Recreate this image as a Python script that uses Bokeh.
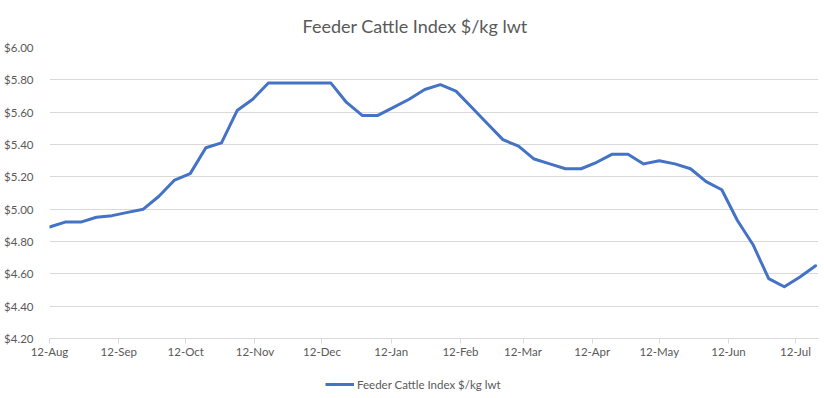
import datetime as dt
from bokeh.plotting import figure
from bokeh.layouts import column
from bokeh.models import (ColumnDataSource, FixedTicker, DatetimeTickFormatter,
                          NumeralTickFormatter, Legend, LegendItem, Range1d)
from bokeh.embed import file_html
from bokeh.resources import INLINE

# ---- data ----
start_date = dt.datetime(2022, 8, 12)
week_index = list(range(50))
index_values = [4.89, 4.92, 4.92, 4.95, 4.96, 4.98, 5.00, 5.08, 5.18, 5.22,
                5.38, 5.41, 5.61, 5.68, 5.78, 5.78, 5.78, 5.78, 5.78, 5.66,
                5.58, 5.58, 5.63, 5.68, 5.74, 5.77, 5.73, 5.63, 5.53, 5.43,
                5.39, 5.31, 5.28, 5.25, 5.25, 5.29, 5.34, 5.34, 5.28, 5.30,
                5.28, 5.25, 5.17, 5.12, 4.93, 4.78, 4.57, 4.52, 4.58, 4.65]
tick_months = ["2022-08-12", "2022-09-12", "2022-10-12", "2022-11-12",
               "2022-12-12", "2023-01-12", "2023-02-12", "2023-03-12",
               "2023-04-12", "2023-05-12", "2023-06-12", "2023-07-12"]
y_ticks = [4.2, 4.4, 4.6, 4.8, 5.0, 5.2, 5.4, 5.6, 5.8, 6.0]
series_name = "Feeder Cattle Index $/kg lwt"

dates = [start_date + dt.timedelta(days=7 * i) for i in week_index]
src = ColumnDataSource(dict(date=dates, value=index_values))

def ms(d):
    return (d - dt.datetime(1970, 1, 1)).total_seconds() * 1000.0

tick_ms = [ms(dt.datetime.strptime(t, "%Y-%m-%d")) for t in tick_months]

x_start = ms(start_date)
x_end = ms(start_date + dt.timedelta(days=344.3))

FONT = "Lato"
GREY = "#595959"
GRID = "#d9d9d9"
LINE_COLOR = "#4472C4"
LABEL_SIZE = "11.5px"

p = figure(width=824, height=370, x_axis_type="datetime",
           output_backend="svg", toolbar_location=None,
           x_range=Range1d(x_start, x_end), y_range=Range1d(4.2, 6.0),
           min_border_left=49, min_border_right=6, min_border_top=47,
           min_border_bottom=32)
p.outline_line_color = None

p.title.text = series_name
p.title.align = "left"
p.title.text_font = FONT
p.title.text_font_size = "18px"
p.title.text_font_style = "normal"
p.title.text_color = GREY
p.title.offset = 253
p.title.standoff = 22

line = p.line("date", "value", source=src, line_color=LINE_COLOR,
              line_width=3, line_join="round", line_cap="round")

# x axis
xa = p.xaxis[0]
xa.ticker = FixedTicker(ticks=tick_ms)
fmt = "%d-%b"
xa.formatter = DatetimeTickFormatter(microseconds=fmt, milliseconds=fmt, seconds=fmt,
                                     minsec=fmt, minutes=fmt, hourmin=fmt, hours=fmt,
                                     days=fmt, months=fmt, years=fmt)
xa.axis_line_color = GRID
xa.major_tick_line_color = GRID
xa.major_tick_out = 5
xa.major_tick_in = 0
xa.minor_tick_line_color = None
xa.major_label_standoff = 1
xa.major_label_text_font = FONT
xa.major_label_text_font_size = LABEL_SIZE
xa.major_label_text_color = GREY

# y axis
ya = p.yaxis[0]
ya.ticker = FixedTicker(ticks=y_ticks)
ya.formatter = NumeralTickFormatter(format="$0.00")
ya.axis_line_color = None
ya.major_tick_line_color = None
ya.minor_tick_line_color = None
ya.major_label_standoff = 10
ya.major_label_text_font = FONT
ya.major_label_text_font_size = LABEL_SIZE
ya.major_label_text_color = GREY

p.xgrid.grid_line_color = None
p.ygrid.ticker = FixedTicker(ticks=y_ticks)
p.ygrid.grid_line_color = GRID
p.ygrid.grid_line_width = 1

# legend strip (separate small figure under the chart)
lg = figure(width=824, height=28, output_backend="svg", toolbar_location=None,
            x_range=Range1d(0, 1), y_range=Range1d(0, 1),
            x_axis_location=None, y_axis_location=None,
            min_border_left=0, min_border_right=0, min_border_top=0,
            min_border_bottom=0)
lg.outline_line_color = None
lg.xgrid.visible = False
lg.ygrid.visible = False
lg_line = lg.line("date", "value", source=src, line_color=LINE_COLOR,
                  line_width=3)
legend = Legend(items=[LegendItem(label=series_name, renderers=[lg_line])],
                location=(276, 7), orientation="horizontal",
                border_line_color=None, background_fill_alpha=0,
                padding=0, margin=0, glyph_width=29, glyph_height=12,
                label_standoff=3, label_text_font=FONT,
                label_text_font_size=LABEL_SIZE, label_text_color=GREY,
                label_height=14)
lg.add_layout(legend, "center")

layout = column(p, lg, spacing=0)
open("out.html", "w").write(file_html(layout, INLINE))
